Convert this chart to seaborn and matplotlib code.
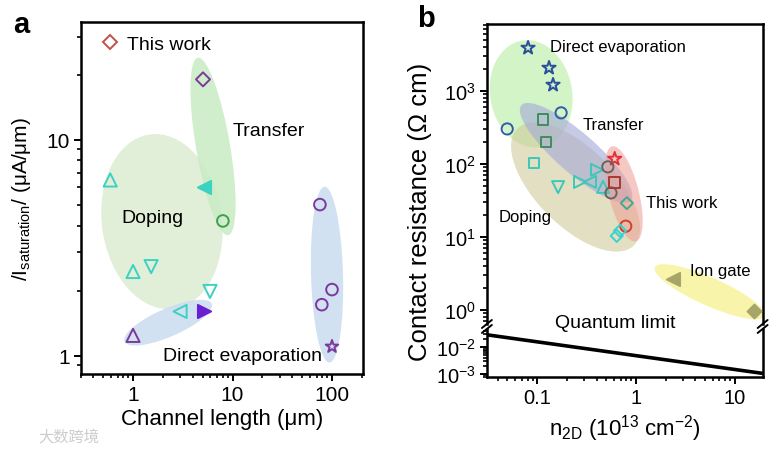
import numpy as np
import pandas as pd
import matplotlib
matplotlib.use("Agg")
import matplotlib.pyplot as plt
import matplotlib.transforms as mtransforms
from matplotlib.patches import Ellipse
from matplotlib.lines import Line2D
from matplotlib.ticker import LogLocator, FuncFormatter, NullFormatter
import seaborn as sns

sns.set_style("ticks")
plt.rcParams["font.family"] = ["Liberation Sans", "DejaVu Sans"]
plt.rcParams["mathtext.fontset"] = "custom"
plt.rcParams["mathtext.rm"] = "Liberation Sans"
plt.rcParams["mathtext.it"] = "Liberation Sans:italic"
plt.rcParams["mathtext.bf"] = "Liberation Sans:bold"
plt.rcParams["mathtext.default"] = "regular"
plt.rcParams["axes.unicode_minus"] = False
for key in ("text.color", "axes.labelcolor", "xtick.color", "ytick.color"):
    plt.rcParams[key] = "black"

# ---- panel a: channel length (um) vs saturation current (uA/um)
a_length = [5.05, 5.2, 8.0, 0.59, 1.0, 1.52, 5.94, 2.97, 5.2, 1.0, 75.6, 79.0, 100.0, 100.0]
a_current = [19.0, 6.05, 4.2, 6.5, 2.45, 2.58, 1.98, 1.6, 1.6, 1.24, 5.0, 1.72, 2.02, 1.1]
a_source = ["a1", "a2", "a3", "a4", "a4", "a5", "a5", "a6", "a7", "a8", "a9", "a9", "a9", "a10"]

# ---- panel b: carrier density (1e13 cm^-2) vs contact resistance (Ohm cm)
b_density = [0.081, 0.132, 0.145, 0.175, 0.0498, 0.115, 0.123, 0.093, 0.163, 0.272,
             0.343, 0.404, 0.465, 0.61, 0.52, 0.56, 0.61, 0.81, 0.79, 0.64, 0.69, 2.37, 15.6]
b_rc = [3880, 2065, 1208, 500, 301, 401, 200, 103, 48, 56.6,
        56.6, 82.8, 48.4, 117, 91, 40, 55, 29, 14, 10.3, 12.1, 2.66, 0.97]
b_source = ["b1", "b1", "b1", "b2", "b2", "b3", "b3", "b4", "b5", "b6",
            "b7", "b8", "b9", "b10", "b11", "b11", "b12", "b13", "b14", "b15", "b15", "b16", "b17"]

# quantum limit line
q_density = [0.031, 19.2]
q_rc = [0.028, 0.00105]

# shaded regions: centre (data), size in px, angle, colour
a_regions = [
    (1.95, 4.17, 120, 176, 8, "#dcecd2", 0.85),      # Doping
    (6.37, 9.29, 180, 34, 99.7, "#c8ecc4", 0.85),    # Transfer
    (89.1, 2.37, 176, 32, 91.6, "#cadcf0", 0.85),    # Direct evaporation
    (2.25, 1.42, 95, 28, 23.5, "#cadcf0", 0.85),
]
b_regions = [
    (0.087, 910, 82, 108, 10, "#c8f2b8", 0.8),       # Direct evaporation
    (0.245, 48.0, 165, 78, -45, "#cfcb9a", 0.6),      # Doping
    (0.248, 141.6, 145, 40, -41, "#a3a8d8", 0.6),     # Transfer
    (0.757, 38.8, 98, 30, 104, "#ee9c94", 0.55),      # This work
    (5.58, 1.77, 120, 28, -24, "#f4ee70", 0.6),       # Ion gate
]

purple = "#7a3a9c"
violet = "#6a1fd0"
cyan = "#3cd2c2"
green = "#3fa04f"
red = "#c0504d"

a_styles = {
    "a1": ("D", purple, False, 51), "a2": ("<", cyan, True, 90),
    "a3": ("o", green, False, 70), "a4": ("^", cyan, False, 90),
    "a5": ("v", cyan, False, 90), "a6": ("<", cyan, False, 90),
    "a7": (">", violet, True, 90), "a8": ("^", purple, False, 90),
    "a9": ("o", purple, False, 70), "a10": ("*", purple, False, 90),
}
b_styles = {
    "b1": ("*", "#2b4e9b", False, 100), "b2": ("o", "#2f5ea8", False, 65),
    "b3": ("s", "#3e8e5e", False, 60), "b4": ("s", "#3cc8b8", False, 60),
    "b5": ("v", "#3cc8b8", False, 75), "b6": (">", "#3cc8b8", False, 75),
    "b7": ("<", "#3cc8b8", False, 75), "b8": (">", "#3cc8b8", False, 75),
    "b9": ("^", "#3cc8b8", False, 75), "b10": ("*", "#e0303a", False, 100),
    "b11": ("o", "#6a6458", False, 65), "b12": ("s", "#a83a30", False, 60),
    "b13": ("D", "#45a890", False, 38), "b14": ("o", "#d0402c", False, 65),
    "b15": ("D", "#3cd0d0", False, 38), "b16": ("<", "#a8a56a", True, 90),
    "b17": ("D", "#a8a56a", True, 50),
}


def draw_points(ax, xs, ys, srcs, styles):
    df = pd.DataFrame({"x": xs, "y": ys, "src": srcs})
    for src, grp in df.groupby("src", sort=False):
        marker, color, filled, size = styles[src]
        sns.scatterplot(data=grp, x="x", y="y", ax=ax, marker=marker, s=size,
                        facecolor=color if filled else "none", edgecolor=color,
                        linewidth=1.4, zorder=5, legend=False)


def draw_regions(fig, ax, regions):
    for cx, cy, w, h, ang, col, alpha in regions:
        tr = fig.dpi_scale_trans + mtransforms.ScaledTranslation(cx, cy, ax.transData)
        ax.add_patch(Ellipse((0, 0), w / 100, h / 100, angle=ang, transform=tr,
                             facecolor=col, edgecolor="none", alpha=alpha, zorder=1))


def style_axis(ax, size):
    for sp in ax.spines.values():
        sp.set_linewidth(1.8)
        sp.set_color("black")
    ax.tick_params(which="major", direction="out", length=5, width=1.4, labelsize=size,
                   pad=3, colors="black")
    ax.tick_params(which="minor", direction="out", length=3, width=1.2, colors="black")


plain = FuncFormatter(lambda v, p: f"{v:g}")

fig = plt.figure(figsize=(7.79, 4.52), dpi=100)

# ---------------- panel a
ax_a = fig.add_axes([0.104, 0.170, 0.362, 0.779])
ax_a.set_xscale("log")
ax_a.set_yscale("log")
ax_a.set_xlim(0.30, 205)
ax_a.set_ylim(0.82, 35)
draw_regions(fig, ax_a, a_regions)
draw_points(ax_a, a_length, a_current, a_source, a_styles)
ax_a.xaxis.set_major_formatter(plain)
ax_a.yaxis.set_major_formatter(plain)
ax_a.yaxis.set_minor_formatter(NullFormatter())
ax_a.xaxis.set_minor_formatter(NullFormatter())
style_axis(ax_a, 15)
ax_a.set_xlabel("Channel length (μm)", fontsize=16, labelpad=3)
ax_a.set_ylabel(r"/I$_{\mathrm{saturation}}$/ (μA/μm)", fontsize=15, labelpad=10)

ax_a.text(10.1, 11.0, "Transfer", fontsize=14, va="center", zorder=6)
ax_a.text(0.76, 4.35, "Doping", fontsize=14, va="center", zorder=6)
ax_a.text(2.0, 1.0, "Direct evaporation", fontsize=14, va="center", zorder=6)
handle = Line2D([], [], marker="D", ls="none", mfc="none", mec=red, ms=7.1, mew=1.4)
ax_a.legend([handle], ["This work"], loc="upper left", frameon=False, fontsize=14,
            handlelength=1.0, handletextpad=0.4, borderaxespad=0.3,
            bbox_to_anchor=(0.02, 1.0))

# ---------------- panel b (broken y axis)
ax_t = fig.add_axes([0.625, 0.281, 0.354, 0.664])
ax_b = fig.add_axes([0.625, 0.164, 0.354, 0.106], sharex=ax_t)
for ax in (ax_t, ax_b):
    ax.set_xscale("log")
    ax.set_yscale("log")
ax_t.set_xlim(0.031, 19.2)
ax_t.set_ylim(0.64, 8280)
ax_b.set_ylim(0.00078, 0.046)

draw_regions(fig, ax_t, b_regions)
draw_points(ax_t, b_density, b_rc, b_source, b_styles)
sns.lineplot(x=q_density, y=q_rc, ax=ax_b, color="black", linewidth=2.6, zorder=4)

style_axis(ax_t, 14.5)
style_axis(ax_b, 14.5)
ax_t.spines["bottom"].set_visible(False)
ax_b.spines["top"].set_visible(False)
ax_t.tick_params(axis="x", which="both", bottom=False, labelbottom=False)
ax_t.yaxis.set_major_locator(LogLocator(base=10, numticks=10))
ax_b.yaxis.set_major_locator(LogLocator(base=10, numticks=10))
ax_b.xaxis.set_major_formatter(plain)
ax_b.xaxis.set_minor_formatter(NullFormatter())
ax_t.set_xlabel("")
ax_t.set_ylabel("")
ax_b.set_ylabel("")
ax_b.set_xlabel(r"n$_{\mathrm{2D}}$ (10$^{13}$ cm$^{-2}$)", fontsize=16, labelpad=4)
fig.text(420 / 779, 1 - 212 / 452, "Contact resistance (Ω cm)", rotation=90,
         ha="center", va="center", fontsize=18.5)

# break marks
for ax, yb, dy in ((ax_t, 0.0, 4 / 300), (ax_b, 1.0, 4 / 48)):
    for xb in (0.0, 1.0):
        ax.plot([xb - 0.018, xb + 0.018], [yb - dy, yb + dy], transform=ax.transAxes,
                color="black", lw=1.4, clip_on=False, zorder=10)

ax_t.text(0.135, 4010, "Direct evaporation", fontsize=12, va="center", zorder=6)
ax_t.text(0.29, 342, "Transfer", fontsize=12, va="center", zorder=6)
ax_t.text(1.26, 30, "This work", fontsize=12, va="center", zorder=6)
ax_t.text(0.0404, 18.8, "Doping", fontsize=12, va="center", zorder=6)
ax_t.text(3.5, 3.42, "Ion gate", fontsize=12, va="center", zorder=6)
fig.text(615.5 / 779, 1 - 324 / 452, "Quantum limit", ha="center", va="center", fontsize=14)

# panel letters
fig.text(13 / 779, 1 - 33 / 452, "a", fontsize=21, fontweight="bold", va="baseline")
fig.text(417 / 779, 1 - 27 / 452, "b", fontsize=21, fontweight="bold", va="baseline")
fig.text(38 / 779, 1 - 437 / 452, "大数跨境", fontsize=11, color="#cccccc", va="center",
         family=["Noto Sans CJK SC", "DejaVu Sans"])

fig.savefig("out.png", dpi=100)
